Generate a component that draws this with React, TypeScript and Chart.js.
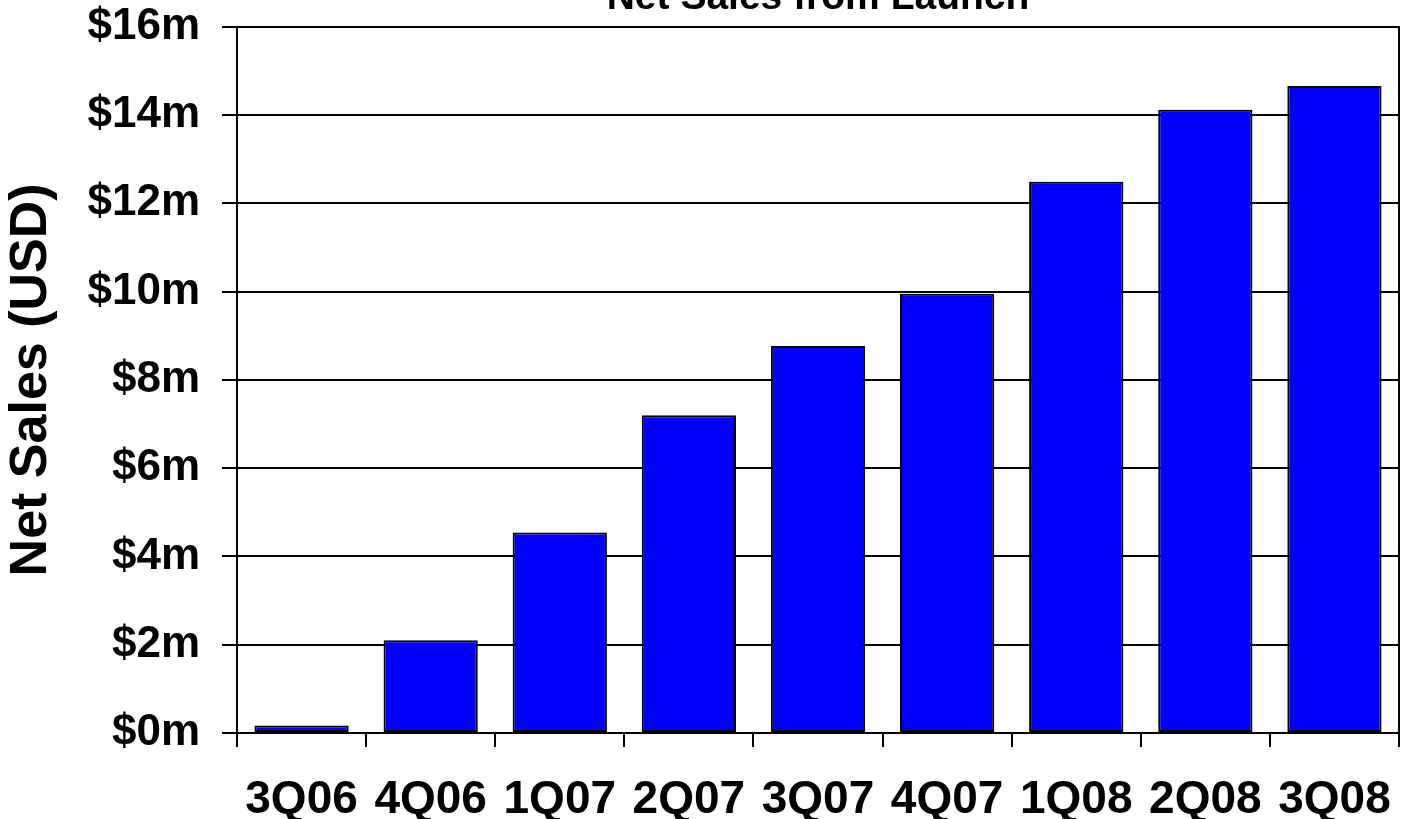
import React, { useEffect, useRef } from "react";
import { Chart, registerables } from "chart.js";

Chart.register(...registerables);

const categories = ["3Q06", "4Q06", "1Q07", "2Q07", "3Q07", "4Q07", "1Q08", "2Q08", "3Q08"];
const netSales = [0.17, 2.1, 4.54, 7.2, 8.77, 9.95, 12.49, 14.12, 14.66];
const yTicks = [0, 2, 4, 6, 8, 10, 12, 14, 16];

const FONT = '"Liberation Sans", Arial, sans-serif';
const SHIFT = 40;

export default function App() {
  const ref = useRef<HTMLCanvasElement | null>(null);

  useEffect(() => {
    if (!ref.current) return;
    const chart = new Chart(ref.current, {
      type: "bar",
      data: {
        labels: categories,
        datasets: [
          {
            label: "Net Sales",
            data: netSales,
            backgroundColor: "#0000FF",
            borderColor: "#000000",
            borderWidth: 2,
            borderSkipped: false,
            barPercentage: 0.73,
            categoryPercentage: 1,
          },
        ],
      },
      options: {
        responsive: false,
        animation: false,
        devicePixelRatio: 1,
        layout: { padding: { left: 0, right: 1, top: 0, bottom: 0 } },
        plugins: {
          legend: { display: false },
          tooltip: { enabled: false },
          title: {
            display: true,
            text: "Net Sales from Launch",
            color: "#000",
            fullSize: false,
            font: { family: FONT, size: 39, weight: "bold" },
            padding: { top: 15, bottom: 5 },
          },
        },
        scales: {
          x: {
            afterFit: (scale: any) => {
              scale.height = 86;
              scale.paddingLeft = 0;
              scale.paddingRight = 0;
            },
            grid: {
              offset: true,
              drawOnChartArea: false,
              drawTicks: true,
              tickLength: 14,
              color: "#000",
              lineWidth: 2,
            },
            border: { display: true, color: "#000", width: 2 },
            ticks: {
              color: "#000",
              font: { family: FONT, size: 46, weight: "bold" },
              padding: 26,
              maxRotation: 0,
              autoSkip: false,
            },
          },
          y: {
            min: 0,
            max: 16,
            afterFit: (scale: any) => {
              scale.width = 237;
            },
            afterBuildTicks: (scale: any) => {
              scale.ticks = yTicks.map((v) => ({ value: v }));
            },
            grid: {
              color: "#000",
              lineWidth: 2,
              drawTicks: true,
              tickLength: 15,
            },
            border: { display: true, color: "#000", width: 2 },
            ticks: {
              color: "#000",
              font: { family: FONT, size: 44, weight: "bold" },
              padding: 22,
              callback: (v: any) => "$" + v + "m",
            },
            title: {
              display: true,
              text: "Net Sales (USD)",
              color: "#000",
              font: { family: FONT, size: 52, weight: "bold" },
              padding: { top: 0, bottom: 6 },
            },
          },
          yRight: {
            position: "right",
            min: 0,
            max: 16,
            afterFit: (scale: any) => {
              scale.width = 2;
            },
            grid: { display: false, drawTicks: false },
            border: { display: true, color: "#000", width: 2 },
            ticks: { display: false },
          },
        },
      },
    });
    return () => chart.destroy();
  }, []);

  return (
    <canvas
      ref={ref}
      width={1402}
      height={819 + SHIFT}
      style={{ position: "absolute", left: 0, top: -SHIFT, width: 1402, height: 819 + SHIFT }}
    />
  );
}
